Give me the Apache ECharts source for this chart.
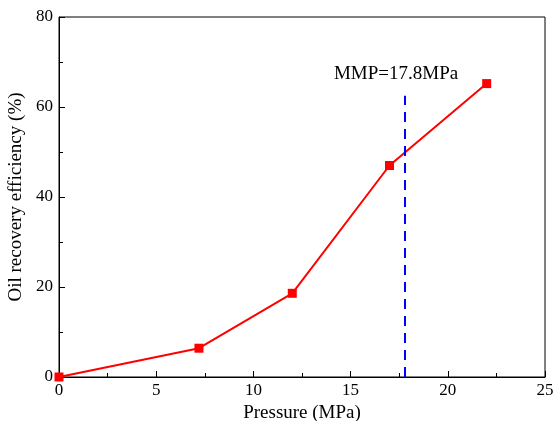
<!DOCTYPE html>
<html>
<head>
<meta charset="utf-8">
<script src="https://cdn.jsdelivr.net/npm/echarts@6/dist/echarts.min.js"></script>
<style>
  html, body { margin: 0; padding: 0; background: #fff; }
  #chart { width: 555px; height: 421px; }
</style>
</head>
<body>
<div id="chart"></div>
<script>
var pressure = [0, 7.2, 12, 17, 22];
var recovery = [0, 6.4, 18.6, 47, 65.2];
var mmp = 17.8;
var mmpLineTop = 62.5;
var mmpLabel = 'MMP=17.8MPa';

var font = 'Liberation Serif';

var chartDom = document.getElementById('chart');
var myChart = echarts.init(chartDom);
var option;

var points = pressure.map(function (p, i) { return [p, recovery[i]]; });

option = {
    animation: false,
    grid: {
        left: 59, right: 10, top: 17, bottom: 44,
        outerBoundsMode: 'none',
        containLabel: false,
        show: true, borderColor: '#000', borderWidth: 1
    },
    xAxis: {
        type: 'value',
        min: 0, max: 25, interval: 5,
        name: 'Pressure (MPa)',
        nameLocation: 'middle',
        nameGap: 25,
        nameTextStyle: { fontFamily: font, fontSize: 19, color: '#000' },
        axisLine: { lineStyle: { color: '#000', width: 1 } },
        axisTick: { inside: true, length: 6, lineStyle: { color: '#000' } },
        minorTick: { show: true, splitNumber: 2, length: 4, lineStyle: { color: '#000' } },
        axisLabel: { fontFamily: font, fontSize: 17, color: '#000', margin: 5 },
        splitLine: { show: false }
    },
    yAxis: {
        type: 'value',
        min: 0, max: 80, interval: 20,
        name: 'Oil recovery efficiency (%)',
        nameLocation: 'middle',
        nameGap: 27,
        nameTextStyle: { fontFamily: font, fontSize: 19, color: '#000' },
        axisLine: { show: true, lineStyle: { color: '#000', width: 1 } },
        axisTick: { show: true, inside: true, length: 6, lineStyle: { color: '#000' } },
        minorTick: { show: true, splitNumber: 2, length: 4, lineStyle: { color: '#000' } },
        axisLabel: { fontFamily: font, fontSize: 17, color: '#000', margin: 6 },
        splitLine: { show: false }
    },
    series: [
        {
            type: 'line',
            data: points,
            symbol: 'rect',
            symbolSize: 9,
            lineStyle: { color: '#ff0000', width: 2 },
            itemStyle: { color: '#ff0000' },
            markLine: {
                silent: true,
                symbol: 'none',
                lineStyle: { color: '#0000ff', width: 2, type: [10, 7] },
                label: {
                    show: true,
                    position: 'end',
                    formatter: mmpLabel,
                    fontFamily: font,
                    fontSize: 19,
                    color: '#000',
                    distance: 12,
                    offset: [-9, 0]
                },
                data: [[{ coord: [mmp, 0] }, { coord: [mmp, mmpLineTop] }]]
            }
        }
    ]
};

option && myChart.setOption(option);
</script>
</body>
</html>
